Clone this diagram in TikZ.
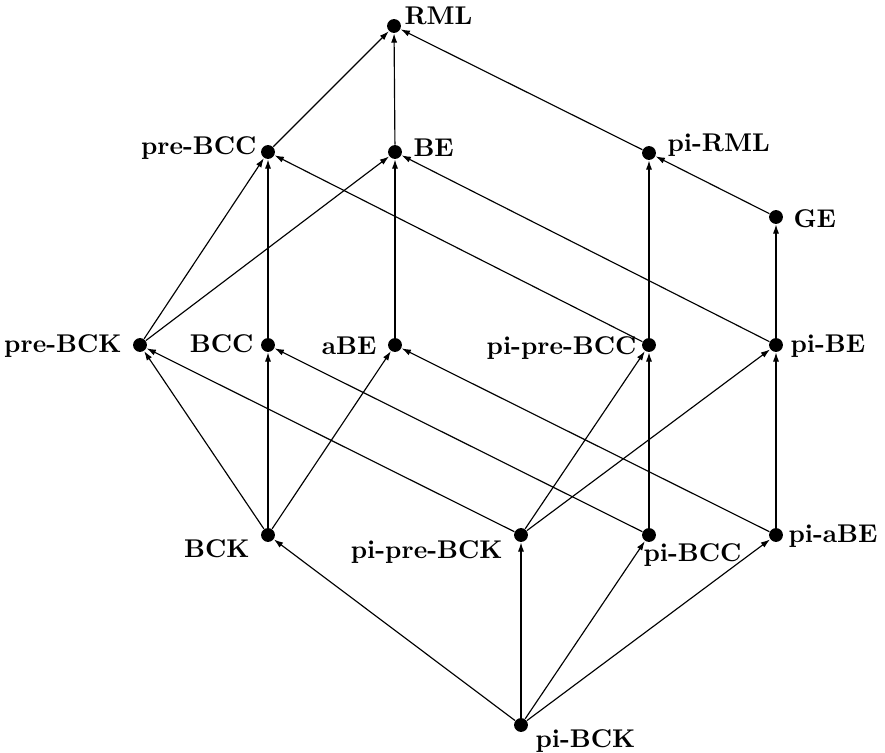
\documentclass[tikz,border=0pt]{standalone}
\usetikzlibrary{arrows.meta}
\begin{document}
\begin{tikzpicture}[x=0.39pt,y=-0.39pt,
  dot/.style={circle,fill=black,inner sep=0pt,minimum size=5.4pt},
  lab/.style={inner sep=0pt,font=\bfseries},
  arr/.style={-{Latex[length=3.6pt,width=2.4pt]},line width=0.45pt}]
\useasboundingbox (0,0) rectangle (885,753);
% vertices
\node[dot] (RML) at (394,26) {};
\node[dot] (preBCC) at (268,152) {};
\node[dot] (BE) at (395,152) {};
\node[dot] (piRML) at (649,153) {};
\node[dot] (GE) at (776,217) {};
\node[dot] (preBCK) at (140,345) {};
\node[dot] (BCC) at (268,345) {};
\node[dot] (aBE) at (395,345) {};
\node[dot] (pipreBCC) at (649,345) {};
\node[dot] (piBE) at (776,345) {};
\node[dot] (BCK) at (268,535) {};
\node[dot] (pipreBCK) at (521,535) {};
\node[dot] (piBCC) at (649,535) {};
\node[dot] (piaBE) at (776,535) {};
\node[dot] (piBCK) at (521,725) {};
% labels
\node[lab,anchor=base west] (lRML) at (404,25) {RML};
\node[lab,anchor=base east] (lpreBCC) at (257,155) {pre-BCC};
\node[lab,anchor=base west] (lBE) at (413,157) {BE};
\node[lab,anchor=base west] (lpiRML) at (667,152) {pi-RML};
\node[lab,anchor=base west] (lGE) at (793,228) {GE};
\node[lab,anchor=base east] (lpreBCK) at (122,353) {pre-BCK};
\node[lab,anchor=base east] (lBCC) at (254,353) {BCC};
\node[lab,anchor=base east] (laBE) at (377,354) {aBE};
\node[lab,anchor=base east] (lpipreBCC) at (637,355) {pi-pre-BCC};
\node[lab,anchor=base west] (lpiBE) at (790,353) {pi-BE};
\node[lab,anchor=base east] (lBCK) at (250,557) {BCK};
\node[lab,anchor=base east] (lpipreBCK) at (503,558) {pi-pre-BCK};
\node[lab,anchor=base west] (lpiBCC) at (643,561) {pi-BCC};
\node[lab,anchor=base west] (lpiaBE) at (788,542) {pi-aBE};
\node[lab,anchor=base west] (lpiBCK) at (535,747) {pi-BCK};
% edges
\draw[arr] (preBCC) -- (RML);
\draw[arr] (BE) -- (RML);
\draw[arr] (piRML) -- (RML);
\draw[arr] (preBCK) -- (preBCC);
\draw[arr] (preBCK) -- (BE);
\draw[arr] (BCC) -- (preBCC);
\draw[arr] (aBE) -- (BE);
\draw[arr] (pipreBCC) -- (preBCC);
\draw[arr] (piBE) -- (BE);
\draw[arr] (pipreBCC) -- (piRML);
\draw[arr] (GE) -- (piRML);
\draw[arr] (piBE) -- (GE);
\draw[arr] (BCK) -- (preBCK);
\draw[arr] (BCK) -- (BCC);
\draw[arr] (BCK) -- (aBE);
\draw[arr] (pipreBCK) -- (preBCK);
\draw[arr] (pipreBCK) -- (pipreBCC);
\draw[arr] (pipreBCK) -- (piBE);
\draw[arr] (piBCC) -- (BCC);
\draw[arr] (piBCC) -- (pipreBCC);
\draw[arr] (piaBE) -- (aBE);
\draw[arr] (piaBE) -- (piBE);
\draw[arr] (piBCK) -- (BCK);
\draw[arr] (piBCK) -- (pipreBCK);
\draw[arr] (piBCK) -- (piBCC);
\draw[arr] (piBCK) -- (piaBE);
\end{tikzpicture}
\end{document}
